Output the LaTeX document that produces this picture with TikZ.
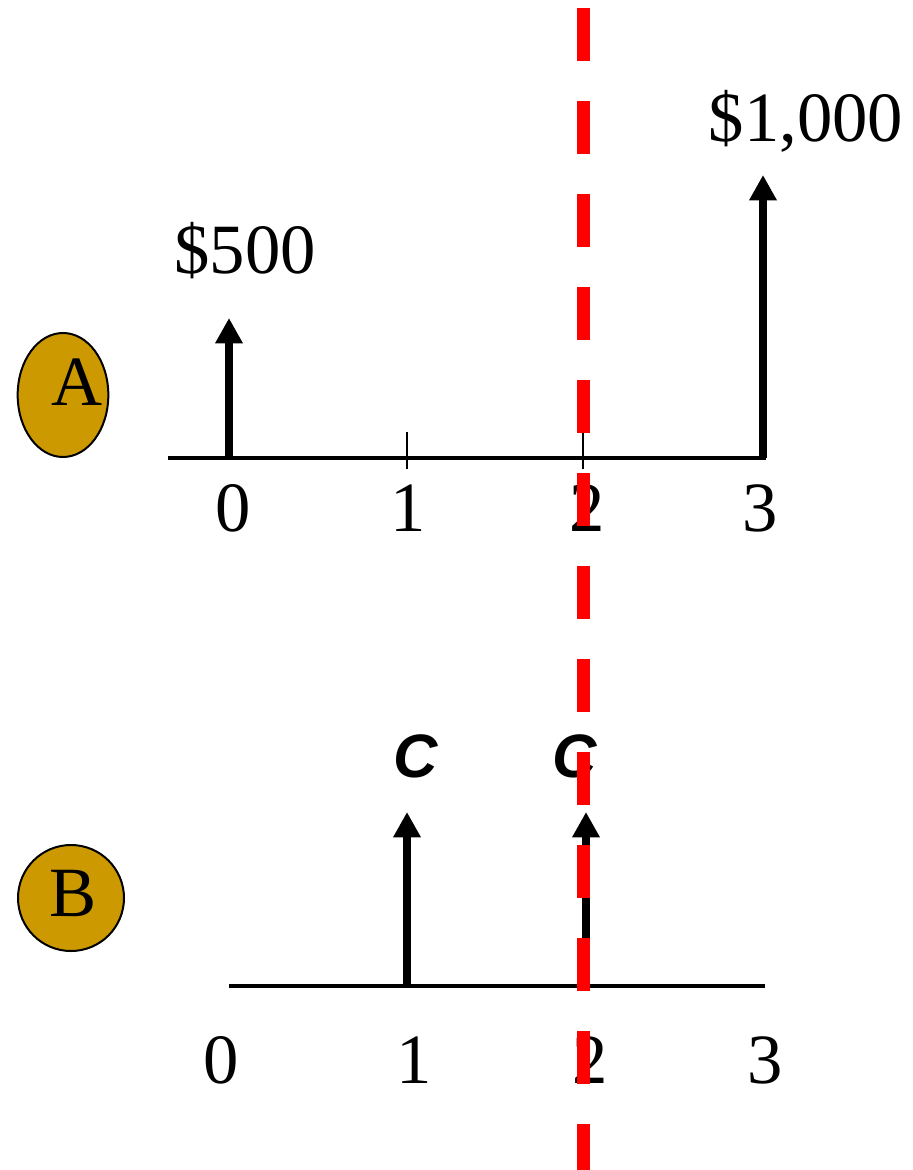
\documentclass[tikz,border=0pt]{standalone}
\usepackage{fontspec}
\setmainfont{Liberation Serif}
\newfontfamily\arialbi{Liberation Sans}[UprightFont={* Bold Italic}]
\usetikzlibrary{arrows.meta,shapes.geometric}
\definecolor{coingold}{HTML}{CC9900}

\begin{document}
\begin{tikzpicture}[
  x=0.75pt, y=-0.75pt,
  axis/.style={line width=2.4pt},  tick/.style={line width=2pt},  flow/.style={line width=6pt,-{Triangle[width=19.5pt,length=19pt]}},  num/.style={anchor=base,inner sep=0pt,font=\fontsize{53}{60}\selectfont},  cval/.style={anchor=base,inner sep=0pt,font=\arialbi\fontsize{46}{52}\selectfont},  coin/.style={ellipse,draw,line width=1.5pt,fill=coingold,inner sep=0pt},  cut/.style={draw=red,line width=9.75pt,dash pattern=on 39.75pt off 30pt,dash phase=63.75pt}
]
  \useasboundingbox (0,0) rectangle (913,1170);
  % timeline A
  \coordinate (aL) at (168,458);
  \coordinate (aR) at (766,458);
  \coordinate (a0) at (229,458);
  \coordinate (a1) at (407,458);
  \coordinate (a2) at (583,458);
  \coordinate (a3) at (763,458);
  \coordinate (p500) at (229,318);
  \coordinate (p1000) at (763,175);
  \draw[axis] (aL) -- (aR);
  \draw[tick] (a1) ++(0,-26) -- ++(0,37);
  \draw[tick] (a2) ++(0,-26) -- ++(0,37);
  \draw[flow] (a0) -- (p500);
  \draw[flow] (a3) -- (p1000);
  \node[num] (l500) at (245,273) {\$500};
  \node[num] (l1000) at (806,142) {\$1,000};
  \node[num] (na0) at (233,531) {0};
  \node[num] (na1) at (408,531) {1};
  \node[num] (na2) at (587,531) {2};
  \node[num] (na3) at (760,531) {3};
  \node[coin,minimum width=68pt,minimum height=93pt] (ovalA) at (63,395) {};
  \node[num] (txtA) at (77,405) {A};
  % timeline B
  \coordinate (bL) at (229,986);
  \coordinate (bR) at (765,986);
  \coordinate (b1) at (407,986);
  \coordinate (b2) at (586,986);
  \coordinate (c1) at (407,812);
  \coordinate (c2) at (586,812);
  \draw[axis] (bL) -- (bR);
  \draw[flow] (b1) -- (c1);
  \draw[flow] (b2) -- (c2);
  \node[cval] (lc1) at (416,777) {C};
  \node[cval] (lc2) at (575,777) {C};
  \node[num] (nb0) at (221,1083) {0};
  \node[num] (nb1) at (414,1083) {1};
  \node[num] (nb2) at (590,1083) {2};
  \node[num] (nb3) at (765,1083) {3};
  \node[coin,minimum width=79.5pt,minimum height=79.5pt] (ovalB) at (71,898) {};
  \node[num] (txtB) at (73,916) {B};
  % cut line
  \coordinate (cutTop) at (583,0);
  \coordinate (cutBot) at (583,1170);
  \draw[cut] (cutTop) -- (cutBot);
\end{tikzpicture}
\end{document}
